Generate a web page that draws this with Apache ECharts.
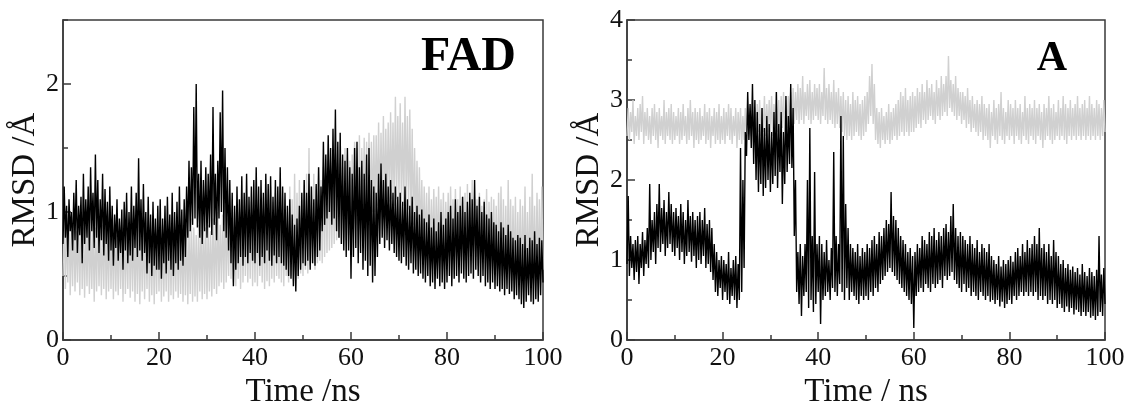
<!DOCTYPE html>
<html>
<head>
<meta charset="utf-8">
<script src="https://cdn.jsdelivr.net/npm/echarts@6/dist/echarts.min.js"></script>
<style>
html,body{margin:0;padding:0;background:#fff;}
#chart{width:1135px;height:414px;}
</style>
</head>
<body>
<div id="chart"></div>
<script>
const timeStep = 0.25;

// Left panel "FAD" – black trace (RMSD, Å)
const fadBlack = [
0.75,1.2,0.8,1.05,0.65,1.1,0.85,1.0,0.7,1.15,0.78,1.25,0.68,1.05,0.82,1.12,0.6,1.3,0.75,1.1,
0.8,1.2,0.7,1.35,0.85,1.15,0.72,1.45,0.8,1.25,0.68,1.1,0.78,1.3,0.66,1.18,0.75,1.08,0.62,1.2,
0.7,1.05,0.58,0.98,0.72,1.1,0.62,0.95,0.68,1.02,0.55,1.08,0.7,1.15,0.6,1.0,0.66,1.2,0.62,1.05,
0.72,1.15,0.65,1.42,0.7,1.1,0.62,1.22,0.68,1.0,0.52,1.12,0.6,0.98,0.5,1.08,0.58,0.95,0.55,1.05,
0.55,1.1,0.48,0.95,0.6,1.05,0.52,1.12,0.62,0.98,0.55,1.15,0.5,1.0,0.6,1.08,0.55,1.2,0.62,1.02,
0.58,1.1,0.65,1.2,0.8,1.4,0.85,1.35,0.9,1.82,0.95,2.0,0.88,1.3,0.8,1.4,0.75,1.25,0.85,1.35,
0.8,1.3,0.88,1.45,0.82,1.82,0.9,1.3,0.78,1.4,0.95,1.78,1.0,1.95,0.85,1.5,0.8,1.35,0.7,1.25,
0.6,1.15,0.42,1.05,0.55,1.2,0.6,1.1,0.65,1.28,0.58,1.15,0.65,1.3,0.6,1.12,0.68,1.2,0.62,1.25,
0.6,1.35,0.68,1.2,0.58,1.25,0.65,1.15,0.6,1.3,0.7,1.22,0.62,1.28,0.58,1.12,0.66,1.25,0.6,1.2,
0.65,1.35,0.6,1.2,0.58,1.15,0.55,1.05,0.5,1.1,0.48,0.98,0.42,0.9,0.38,0.95,0.5,1.05,0.55,1.15,
0.6,1.25,0.58,1.15,0.62,1.3,0.55,1.2,0.6,1.1,0.58,1.22,0.65,1.35,0.7,1.2,0.85,1.55,0.9,1.45,
0.95,1.6,1.0,1.5,0.9,1.65,0.95,1.8,0.85,1.55,0.8,1.62,0.75,1.45,0.7,1.4,0.65,1.5,0.7,1.35,
0.48,1.3,0.65,1.5,0.72,1.55,0.6,1.35,0.68,1.4,0.55,1.3,0.62,1.45,0.5,1.5,0.58,1.25,0.45,1.2,
0.5,1.15,0.65,1.3,0.75,1.38,0.8,1.25,0.72,1.3,0.78,1.2,0.7,1.25,0.75,1.15,0.68,1.2,0.65,1.12,
0.62,1.15,0.6,1.08,0.65,1.2,0.58,1.1,0.55,1.05,0.6,1.12,0.52,1.0,0.55,1.05,0.5,0.98,0.52,1.02,
0.48,0.95,0.45,0.92,0.5,0.98,0.42,0.88,0.45,0.95,0.4,0.85,0.48,0.92,0.42,1.0,0.45,0.9,0.4,0.95,
0.45,1.0,0.5,1.05,0.42,0.95,0.48,1.1,0.5,1.0,0.45,1.05,0.52,1.12,0.48,1.0,0.45,1.08,0.5,1.15,
0.52,1.1,0.48,1.25,0.55,1.05,0.5,1.12,0.45,1.0,0.5,1.08,0.42,0.98,0.45,0.95,0.4,1.0,0.45,0.92,
0.4,0.9,0.42,0.85,0.38,0.92,0.4,0.88,0.35,0.82,0.4,0.9,0.36,0.85,0.38,0.8,0.32,0.78,0.35,0.82,
0.32,0.8,0.28,0.75,0.25,0.82,0.3,0.72,0.35,0.8,0.3,0.78,0.28,0.85,0.32,0.75,0.3,0.8,0.35,0.78,
0.45
];

// Left panel "FAD" – light grey trace
const fadGrey = [
0.5,0.95,0.4,0.9,0.45,1.0,0.35,0.88,0.42,0.95,0.38,0.85,0.45,0.92,0.35,0.98,0.4,0.88,0.33,0.9,
0.42,0.95,0.36,0.85,0.4,0.92,0.3,0.88,0.38,0.95,0.42,0.85,0.35,0.9,0.4,0.98,0.32,0.86,0.38,0.92,
0.4,0.85,0.32,0.9,0.38,0.82,0.35,0.92,0.4,0.86,0.3,0.9,0.36,0.84,0.4,0.95,0.33,0.88,0.38,0.9,
0.3,0.88,0.36,0.95,0.28,0.85,0.38,0.9,0.32,0.86,0.4,0.92,0.3,0.85,0.35,0.9,0.28,0.84,0.36,0.88,
0.38,0.86,0.3,0.9,0.34,0.82,0.38,0.92,0.3,0.85,0.35,0.88,0.32,0.8,0.38,0.9,0.33,0.86,0.36,0.82,
0.3,0.85,0.35,0.9,0.28,0.86,0.36,0.95,0.3,0.88,0.34,0.82,0.3,0.9,0.38,0.86,0.32,0.95,0.36,0.88,
0.32,0.9,0.38,0.85,0.34,0.95,0.4,0.92,0.36,1.0,0.42,0.9,0.45,0.98,0.4,1.05,0.45,0.95,0.5,1.05,
0.48,1.1,0.45,1.0,0.42,1.08,0.48,1.0,0.4,1.1,0.45,1.05,0.5,1.12,0.45,1.0,0.48,1.08,0.42,1.0,
0.45,1.1,0.42,1.0,0.5,1.05,0.45,1.12,0.4,1.0,0.46,1.1,0.42,1.2,0.48,1.08,0.45,1.15,0.5,1.05,
0.48,1.15,0.45,1.05,0.42,1.1,0.5,1.0,0.45,1.2,0.5,1.1,0.46,1.3,0.5,1.15,0.48,1.25,0.52,1.1,
0.5,1.25,0.55,1.3,0.52,1.5,0.58,1.2,0.6,1.3,0.55,1.2,0.6,1.35,0.62,1.25,0.6,1.35,0.65,1.3,
0.68,1.4,0.7,1.3,0.72,1.35,0.75,1.45,0.78,1.38,0.8,1.42,0.75,1.35,0.8,1.5,0.78,1.45,0.82,1.4,
0.85,1.45,0.88,1.55,0.9,1.5,0.85,1.6,0.92,1.5,0.95,1.58,0.9,1.55,0.98,1.62,0.95,1.55,1.0,1.6,
1.0,1.6,1.05,1.7,1.02,1.62,1.08,1.75,1.05,1.65,1.1,1.7,1.08,1.78,1.1,1.7,1.05,1.9,1.1,1.75,
1.12,1.85,1.08,1.7,1.05,1.9,1.1,1.75,1.02,1.8,0.95,1.65,0.9,1.5,0.85,1.4,0.8,1.35,0.78,1.25,
0.75,1.2,0.72,1.15,0.7,1.2,0.68,1.1,0.72,1.18,0.65,1.12,0.7,1.2,0.66,1.1,0.7,1.15,0.65,1.08,
0.7,1.15,0.65,1.2,0.68,1.1,0.62,1.18,0.66,1.1,0.6,1.2,0.65,1.12,0.62,1.15,0.6,1.22,0.65,1.1,
0.62,1.25,0.6,1.12,0.65,1.1,0.58,1.15,0.6,1.05,0.55,1.1,0.6,1.18,0.55,1.08,0.58,1.12,0.52,1.1,
0.55,1.05,0.5,1.15,0.55,1.2,0.5,1.1,0.52,1.05,0.48,1.25,0.52,1.1,0.46,1.05,0.5,1.12,0.48,1.0,
0.5,1.1,0.45,1.05,0.5,1.2,0.46,1.0,0.5,1.12,0.45,1.3,0.5,1.05,0.46,1.15,0.5,1.1,0.48,1.2,
0.55
];

// Right panel "A" – black trace
const aBlack = [
0.95,1.8,0.8,1.3,0.9,1.2,0.75,1.25,0.85,1.3,0.7,1.2,0.9,1.35,0.8,1.25,0.95,1.4,0.9,1.95,
1.0,1.5,1.1,1.6,0.95,1.7,1.15,1.95,1.1,1.65,1.2,1.75,1.05,1.6,1.15,1.85,1.2,1.7,1.1,1.6,
1.05,1.65,1.15,1.55,1.0,1.7,1.1,1.6,0.95,1.5,1.05,1.75,1.1,1.55,0.98,1.6,1.05,1.5,0.9,1.55,
1.0,1.6,0.95,1.5,1.05,1.65,0.9,1.45,0.95,1.5,0.85,1.4,0.75,1.2,0.6,1.1,0.55,1.0,0.65,1.05,
0.5,1.0,0.6,0.95,0.5,1.1,0.45,0.9,0.55,1.0,0.5,1.05,0.4,0.95,0.5,2.4,0.6,2.0,0.9,2.6,
2.3,3.1,2.5,2.95,2.4,3.2,2.2,3.0,2.0,2.85,1.85,2.7,1.95,2.9,1.8,2.65,1.9,2.8,2.0,2.7,
1.85,2.6,1.95,2.85,2.05,3.1,1.9,2.7,2.1,2.85,1.7,2.6,1.95,3.05,2.1,2.8,2.2,3.2,2.15,2.9,
1.3,2.0,0.6,1.1,0.45,1.2,0.3,1.05,0.55,1.2,0.6,2.0,0.4,2.65,0.5,1.3,0.35,2.1,0.45,1.2,
0.6,1.3,0.2,1.2,0.5,1.1,0.55,1.25,0.6,1.0,0.5,1.15,0.65,2.35,0.6,1.3,0.55,1.2,0.7,2.8,
0.6,2.55,0.5,1.7,0.65,1.4,0.5,1.2,0.6,1.15,0.55,1.1,0.5,1.2,0.45,1.05,0.55,1.15,0.5,1.1,
0.55,1.2,0.5,1.15,0.6,1.25,0.55,1.3,0.65,1.2,0.6,1.35,0.7,1.3,0.75,1.4,0.8,1.5,0.85,1.45,
0.9,1.85,0.85,1.55,0.8,1.5,0.75,1.4,0.7,1.3,0.65,1.25,0.6,1.2,0.55,1.1,0.5,1.15,0.45,1.05,
0.15,1.1,0.55,1.2,0.6,1.15,0.65,1.3,0.6,1.25,0.7,1.2,0.65,1.35,0.6,1.3,0.7,1.4,0.65,1.25,
0.7,1.35,0.75,1.3,0.65,1.4,0.8,1.45,0.75,1.35,0.8,1.55,0.85,1.7,0.75,1.4,0.7,1.3,0.65,1.35,
0.6,1.3,0.7,1.25,0.6,1.2,0.65,1.3,0.55,1.2,0.6,1.15,0.55,1.25,0.5,1.1,0.6,1.2,0.55,1.15,
0.5,1.1,0.55,1.2,0.48,1.05,0.5,1.0,0.45,0.95,0.5,1.05,0.42,0.92,0.48,1.0,0.4,0.95,0.45,1.0,
0.5,1.05,0.45,0.98,0.55,1.1,0.5,1.15,0.55,1.05,0.6,1.2,0.55,1.1,0.6,1.25,0.55,1.15,0.6,1.2,
0.55,1.3,0.6,1.2,0.5,1.4,0.55,1.15,0.5,1.2,0.55,1.1,0.45,1.2,0.5,1.05,0.45,1.25,0.5,1.1,
0.4,1.05,0.45,0.95,0.4,1.0,0.35,0.9,0.42,0.95,0.35,0.88,0.4,0.92,0.32,0.85,0.38,0.9,0.35,0.82,
0.3,0.95,0.35,0.85,0.3,0.8,0.35,0.9,0.28,0.85,0.3,0.8,0.25,0.88,0.3,1.3,0.35,0.82,0.3,0.9,
0.45
];

// Right panel "A" – light grey trace
const aGrey = [
2.55,2.9,2.5,2.85,2.6,3.0,2.45,2.8,2.55,2.9,2.5,2.95,2.6,3.05,2.45,2.85,2.55,2.9,2.5,2.8,
2.45,2.9,2.55,2.95,2.5,2.85,2.4,2.9,2.55,2.8,2.5,3.0,2.45,2.85,2.55,2.9,2.5,2.95,2.45,2.85,
2.5,2.8,2.55,2.9,2.45,2.85,2.5,2.95,2.55,2.8,2.45,2.9,2.5,3.0,2.55,2.85,2.4,2.9,2.5,2.85,
2.45,2.9,2.5,2.8,2.55,2.95,2.45,2.85,2.5,2.9,2.4,2.8,2.55,2.9,2.45,2.85,2.5,2.95,2.45,2.8,
2.5,2.9,2.45,2.85,2.55,2.95,2.5,2.9,2.45,2.8,2.55,2.9,2.4,2.85,2.5,2.9,2.45,2.8,2.5,2.9,
2.55,2.95,2.5,2.9,2.55,3.0,2.6,2.9,2.55,2.95,2.6,3.0,2.55,2.9,2.6,3.05,2.55,2.95,2.6,3.0,
2.6,3.05,2.55,2.95,2.65,3.1,2.6,3.0,2.55,3.05,2.65,3.1,2.6,3.0,2.65,3.05,2.7,3.1,2.65,3.15,
2.7,3.1,2.75,3.2,2.7,3.15,2.75,3.3,2.7,3.1,2.8,3.2,2.75,3.25,2.7,3.1,2.75,3.2,2.8,3.15,
2.75,3.2,2.7,3.1,2.8,3.4,2.75,3.15,2.7,3.2,2.75,3.1,2.7,3.25,2.65,3.1,2.7,3.15,2.65,3.05,
2.6,3.1,2.55,3.0,2.5,3.05,2.55,2.95,2.5,3.1,2.55,3.0,2.6,3.05,2.55,2.95,2.5,3.0,2.55,3.05,
2.6,3.1,2.7,3.3,2.8,3.45,2.7,3.2,2.5,2.9,2.45,2.85,2.4,2.9,2.5,2.8,2.45,2.85,2.5,2.95,
2.45,2.85,2.5,2.9,2.55,2.95,2.5,3.0,2.55,3.1,2.6,3.05,2.55,3.15,2.6,3.0,2.55,3.05,2.6,3.1,
2.6,3.05,2.65,3.15,2.7,3.1,2.65,3.2,2.75,3.1,2.7,3.25,2.75,3.15,2.8,3.2,2.75,3.1,2.7,3.25,
2.8,3.15,2.75,3.3,2.8,3.2,2.85,3.3,2.8,3.55,2.9,3.25,2.85,3.2,2.8,3.3,2.75,3.15,2.8,3.1,
2.7,3.1,2.75,3.05,2.65,3.15,2.7,3.0,2.6,3.05,2.65,2.95,2.6,3.0,2.55,2.95,2.6,3.05,2.5,2.95,
2.55,2.9,2.5,2.95,2.4,2.85,2.55,3.0,2.5,2.9,2.45,2.95,2.55,3.1,2.5,2.9,2.45,2.85,2.55,3.0,
2.5,2.95,2.55,2.9,2.45,3.0,2.55,2.9,2.5,2.95,2.45,2.85,2.55,3.05,2.5,2.9,2.45,2.95,2.55,2.9,
2.5,3.0,2.45,2.9,2.55,2.95,2.5,2.85,2.4,2.95,2.5,2.9,2.55,3.05,2.5,2.9,2.45,2.95,2.5,2.85,
2.55,3.0,2.5,2.9,2.55,3.05,2.5,2.95,2.45,2.9,2.55,3.0,2.5,2.9,2.55,2.95,2.5,3.05,2.55,2.9,
2.5,2.95,2.55,3.0,2.5,2.9,2.55,3.05,2.5,2.95,2.55,2.9,2.5,3.0,2.55,2.95,2.5,2.9,2.55,3.0,
2.6
];

// Axis tick labels
const xTicks = [0, 20, 40, 60, 80, 100];
const yTicksFAD = [0, 1, 2];
const yTicksA = [0, 1, 2, 3, 4];

const panelTitles = ['FAD', 'A'];
const xName = ['Time /ns', 'Time / ns'];
const yName = 'RMSD /Å';

function pairs(arr) { return arr.map((v, i) => [i * timeStep, v]); }

const serif = '"Liberation Serif","DejaVu Serif",serif';
const axisCol = '#3a3a3a';

function xAxisCfg(gi, name) {
  return {
    type: 'value', gridIndex: gi, min: 0, max: 100, interval: 20,
    name: name, nameLocation: 'middle', nameGap: 27,
    nameTextStyle: { fontFamily: serif, fontSize: 33, color: '#111' },
    axisLine: { lineStyle: { color: axisCol, width: 1.5 } },
    axisTick: { inside: true, length: 8, lineStyle: { color: axisCol, width: 1.5 } },
    minorTick: { show: true, splitNumber: 2, length: 5, lineStyle: { color: axisCol, width: 1.5 } },
    axisLabel: { fontFamily: serif, fontSize: 26, color: '#111', margin: 5,
      formatter: v => xTicks.indexOf(v) >= 0 ? String(v) : '' },
    splitLine: { show: false }
  };
}

function yNameCfg() {
  return { name: yName, nameLocation: 'middle', nameGap: 17,
    nameTextStyle: { fontFamily: serif, fontSize: 33, color: '#111' } };
}

const option = {
  animation: false,
  backgroundColor: '#fff',
  grid: [
    { left: 63, top: 20, width: 480, height: 335, show: true, borderColor: axisCol, borderWidth: 1.5 },
    { left: 627, top: 20, width: 478, height: 335, show: true, borderColor: axisCol, borderWidth: 1.5 }
  ],
  xAxis: [ xAxisCfg(0, xName[0]), xAxisCfg(1, xName[1]) ],
  yAxis: [
    Object.assign({ type: 'value', gridIndex: 0, min: 0, max: 2.5, interval: 1, position: 'left',
      axisLine: { lineStyle: { color: axisCol, width: 1.5 } },
      axisTick: { inside: true, length: 8, lineStyle: { color: axisCol, width: 1.5 } },
      axisLabel: { fontFamily: serif, fontSize: 26, color: '#111', margin: 4, showMaxLabel: false,
        formatter: v => yTicksFAD.indexOf(v) >= 0 ? String(v) : '' },
      splitLine: { show: false } }, yNameCfg()),
    { type: 'value', gridIndex: 0, min: 0, max: 2.5, interval: 0.5, position: 'left',
      axisLine: { show: false },
      axisTick: { inside: true, length: 5, lineStyle: { color: axisCol, width: 1.5 } },
      axisLabel: { show: false }, splitLine: { show: false } },
    Object.assign({ type: 'value', gridIndex: 1, min: 0, max: 4, interval: 1, position: 'left',
      axisLine: { lineStyle: { color: axisCol, width: 1.5 } },
      axisTick: { inside: true, length: 8, lineStyle: { color: axisCol, width: 1.5 } },
      minorTick: { show: true, splitNumber: 2, length: 5, lineStyle: { color: axisCol, width: 1.5 } },
      axisLabel: { fontFamily: serif, fontSize: 26, color: '#111', margin: 4,
        formatter: v => yTicksA.indexOf(v) >= 0 ? String(v) : '' },
      splitLine: { show: false } }, yNameCfg())
  ],
  series: [
    { type: 'line', xAxisIndex: 0, yAxisIndex: 0, data: pairs(fadGrey), showSymbol: false,
      lineStyle: { color: '#d0d0d0', width: 1.4 }, z: 2 },
    { type: 'line', xAxisIndex: 0, yAxisIndex: 0, data: pairs(fadBlack), showSymbol: false,
      lineStyle: { color: '#000', width: 1.4 }, z: 3 },
    { type: 'line', xAxisIndex: 1, yAxisIndex: 2, data: pairs(aGrey), showSymbol: false,
      lineStyle: { color: '#d0d0d0', width: 1.4 }, z: 2 },
    { type: 'line', xAxisIndex: 1, yAxisIndex: 2, data: pairs(aBlack), showSymbol: false,
      lineStyle: { color: '#000', width: 1.4 }, z: 3 }
  ],
  graphic: [
    { type: 'text', right: 1135 - 516, top: 34, z: 10,
      style: { text: panelTitles[0], font: 'bold 48px ' + serif, fill: '#000' } },
    { type: 'text', right: 1135 - 1067, top: 38, z: 10,
      style: { text: panelTitles[1], font: 'bold 42px ' + serif, fill: '#000' } }
  ]
};

const chart = echarts.init(document.getElementById('chart'), null, { renderer: 'canvas' });
chart.setOption(option);
</script>
</body>
</html>
